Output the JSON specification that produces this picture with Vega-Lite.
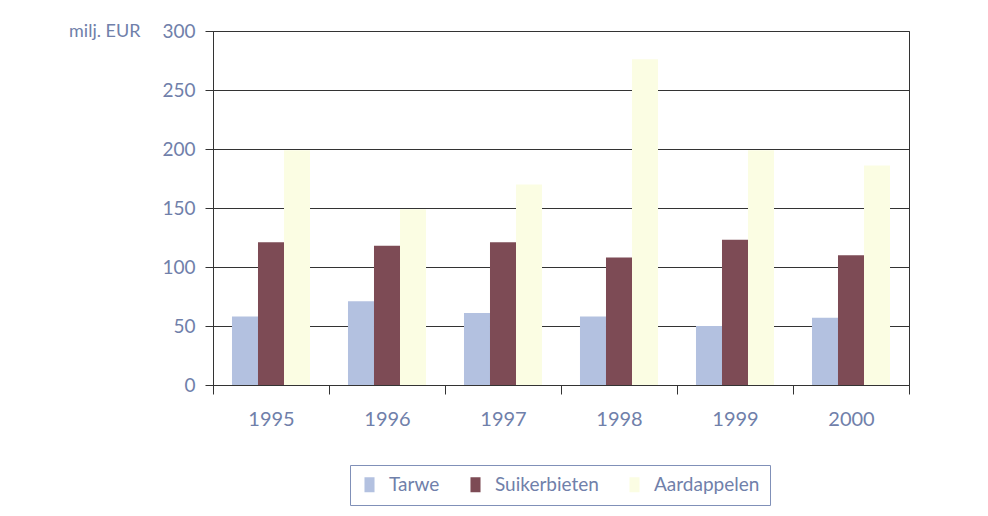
{
  "$schema": "https://vega.github.io/schema/vega-lite/v6.json",
  "width": 696,
  "height": 354,
  "autosize": {"type": "none"},
  "padding": {"left": 213, "top": 31, "right": 79, "bottom": 131},
  "background": "white",
  "data": {
    "values": [
      {"jaar": "1995", "gewas": "Tarwe", "waarde": 58},
      {"jaar": "1995", "gewas": "Suikerbieten", "waarde": 121},
      {"jaar": "1995", "gewas": "Aardappelen", "waarde": 199},
      {"jaar": "1996", "gewas": "Tarwe", "waarde": 71},
      {"jaar": "1996", "gewas": "Suikerbieten", "waarde": 118},
      {"jaar": "1996", "gewas": "Aardappelen", "waarde": 149},
      {"jaar": "1997", "gewas": "Tarwe", "waarde": 61},
      {"jaar": "1997", "gewas": "Suikerbieten", "waarde": 121},
      {"jaar": "1997", "gewas": "Aardappelen", "waarde": 170},
      {"jaar": "1998", "gewas": "Tarwe", "waarde": 58},
      {"jaar": "1998", "gewas": "Suikerbieten", "waarde": 108},
      {"jaar": "1998", "gewas": "Aardappelen", "waarde": 276},
      {"jaar": "1999", "gewas": "Tarwe", "waarde": 50},
      {"jaar": "1999", "gewas": "Suikerbieten", "waarde": 123},
      {"jaar": "1999", "gewas": "Aardappelen", "waarde": 199},
      {"jaar": "2000", "gewas": "Tarwe", "waarde": 57},
      {"jaar": "2000", "gewas": "Suikerbieten", "waarde": 110},
      {"jaar": "2000", "gewas": "Aardappelen", "waarde": 186}
    ]
  },
  "mark": {"type": "bar"},
  "encoding": {
    "x": {
      "field": "jaar",
      "type": "nominal",
      "scale": {"paddingInner": 0, "paddingOuter": 0},
      "axis": {
        "title": null,
        "labelAngle": 0,
        "tickBand": "extent",
        "tickSize": 9,
        "tickColor": "#333333",
        "domainColor": "#333333",
        "labelPadding": 15,
        "labelFontSize": 20,
        "labelFontWeight": "normal",
        "labelColor": "#7080aa",
        "grid": false
      }
    },
    "xOffset": {
      "field": "gewas",
      "type": "nominal",
      "sort": ["Tarwe", "Suikerbieten", "Aardappelen"],
      "scale": {"paddingInner": 0, "paddingOuter": 0.73}
    },
    "y": {
      "field": "waarde",
      "type": "quantitative",
      "scale": {"domain": [0, 300], "nice": false},
      "axis": {
        "values": [0, 50, 100, 150, 200, 250, 300],
        "title": "milj. EUR",
        "titleAngle": 0,
        "titleAlign": "right",
        "titleBaseline": "middle",
        "titleX": -73,
        "titleY": 0,
        "titleFontSize": 18,
        "titleFontWeight": "normal",
        "titleColor": "#7080aa",
        "grid": true,
        "gridColor": "#333333",
        "gridWidth": 1,
        "tickSize": 8,
        "tickColor": "#333333",
        "domainColor": "#333333",
        "labelPadding": 10,
        "labelFontSize": 19,
        "labelFontWeight": "normal",
        "labelColor": "#7080aa"
      }
    },
    "color": {
      "field": "gewas",
      "type": "nominal",
      "sort": ["Tarwe", "Suikerbieten", "Aardappelen"],
      "scale": {
        "domain": ["Tarwe", "Suikerbieten", "Aardappelen"],
        "range": ["#b3c1e0", "#7d4b55", "#fbfde3"]
      },
      "legend": {
        "title": null,
        "orient": "none",
        "legendX": 137,
        "legendY": 434,
        "direction": "horizontal",
        "symbolType": "M-0.67,-1H0.67V1H-0.67Z",
        "symbolSize": 225,
        "symbolStrokeWidth": 0,
        "labelFontSize": 19,
        "labelFontWeight": "normal",
        "labelColor": "#7080aa",
        "labelOffset": 10,
        "columnPadding": 26,
        "strokeColor": "#8090b8",
        "padding": 10
      }
    }
  },
  "config": {
    "font": "Lato",
    "view": {"stroke": "#333333", "strokeWidth": 1},
    "axis": {"labelFont": "Lato", "titleFont": "Lato"},
    "legend": {"labelFont": "Lato"}
  }
}
